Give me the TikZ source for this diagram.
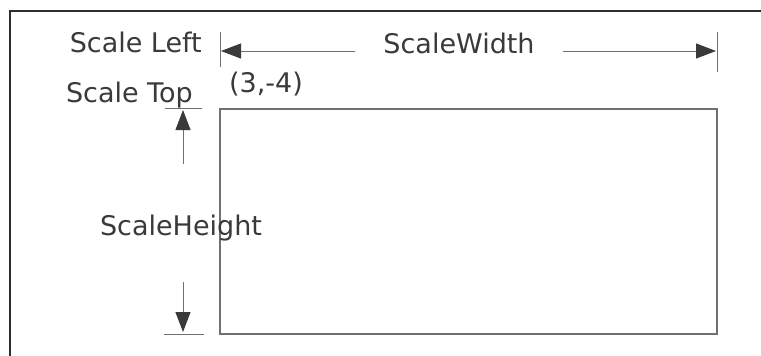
\documentclass[tikz,border=0pt]{standalone}
\usepackage{fontspec}
\setmainfont{DejaVu Sans}
\usetikzlibrary{arrows.meta,positioning}
\definecolor{ink}{HTML}{3A3A3A}
\definecolor{rulegray}{HTML}{707070}
\definecolor{framedark}{HTML}{2E2E2E}
\tikzset{
  dimtext/.style={font=\fontsize{27}{32}\selectfont,text=ink,inner sep=0pt},
  dimline/.style={draw=rulegray,line width=1pt},
  dimarrow/.style={dimline,-{Triangle[length=20pt,width=15pt,color=ink]}},
  frameline/.style={draw=framedark,line width=1.6pt}
}

\begin{document}
\begin{tikzpicture}[x=1pt,y=1pt]
    \useasboundingbox (0,0) rectangle (761,-356);
    \fill[white] (0,0) rectangle (761,-356);
    \draw[frameline] (10,-356) -- (10,-11) -- (761,-11);
    \coordinate (tl) at (220,-109);
    \coordinate (br) at (717,-334);
    \draw[dimline,line width=1.2pt] (tl) rectangle (br);
    \node[dimtext,anchor=base east] (sleft) at (202,-52) {Scale Left};
    \node[dimtext,anchor=base east] (stop) at (193,-102) {Scale Top};
    \node[dimtext,anchor=base west] (orig) at (229,-92) {(3,-4)};
    \node[dimtext,anchor=base] (swidth) at (459,-53) {ScaleWidth};
    \node[dimtext,anchor=base] (sheight) at (181,-235) {ScaleHeight};
    \coordinate (ltick1) at (220,-32);
    \coordinate (ltick2) at (220,-67);
    \coordinate (rtick1) at (717,-32);
    \coordinate (rtick2) at (717,-72);
    \draw[dimline] (ltick1) -- (ltick2);
    \draw[dimline] (rtick1) -- (rtick2);
    \coordinate (wstartl) at (355,-51);
    \coordinate (wendl) at (221,-51);
    \coordinate (wstartr) at (563,-51);
    \coordinate (wendr) at (716,-51);
    \draw[dimarrow] (wstartl) -- (wendl);
    \draw[dimarrow] (wstartr) -- (wendr);
    \coordinate (text1) at (165,-108);
    \coordinate (text2) at (202,-108);
    \coordinate (bext1) at (164,-334);
    \coordinate (bext2) at (204,-334);
    \draw[dimline] (text1) -- (text2);
    \draw[dimline] (bext1) -- (bext2);
    \coordinate (hup1) at (183,-164);
    \coordinate (hup2) at (183,-110);
    \coordinate (hdn1) at (183,-282);
    \coordinate (hdn2) at (183,-332);
    \draw[dimarrow] (hup1) -- (hup2);
    \draw[dimarrow] (hdn1) -- (hdn2);
  \end{tikzpicture}
\end{document}
